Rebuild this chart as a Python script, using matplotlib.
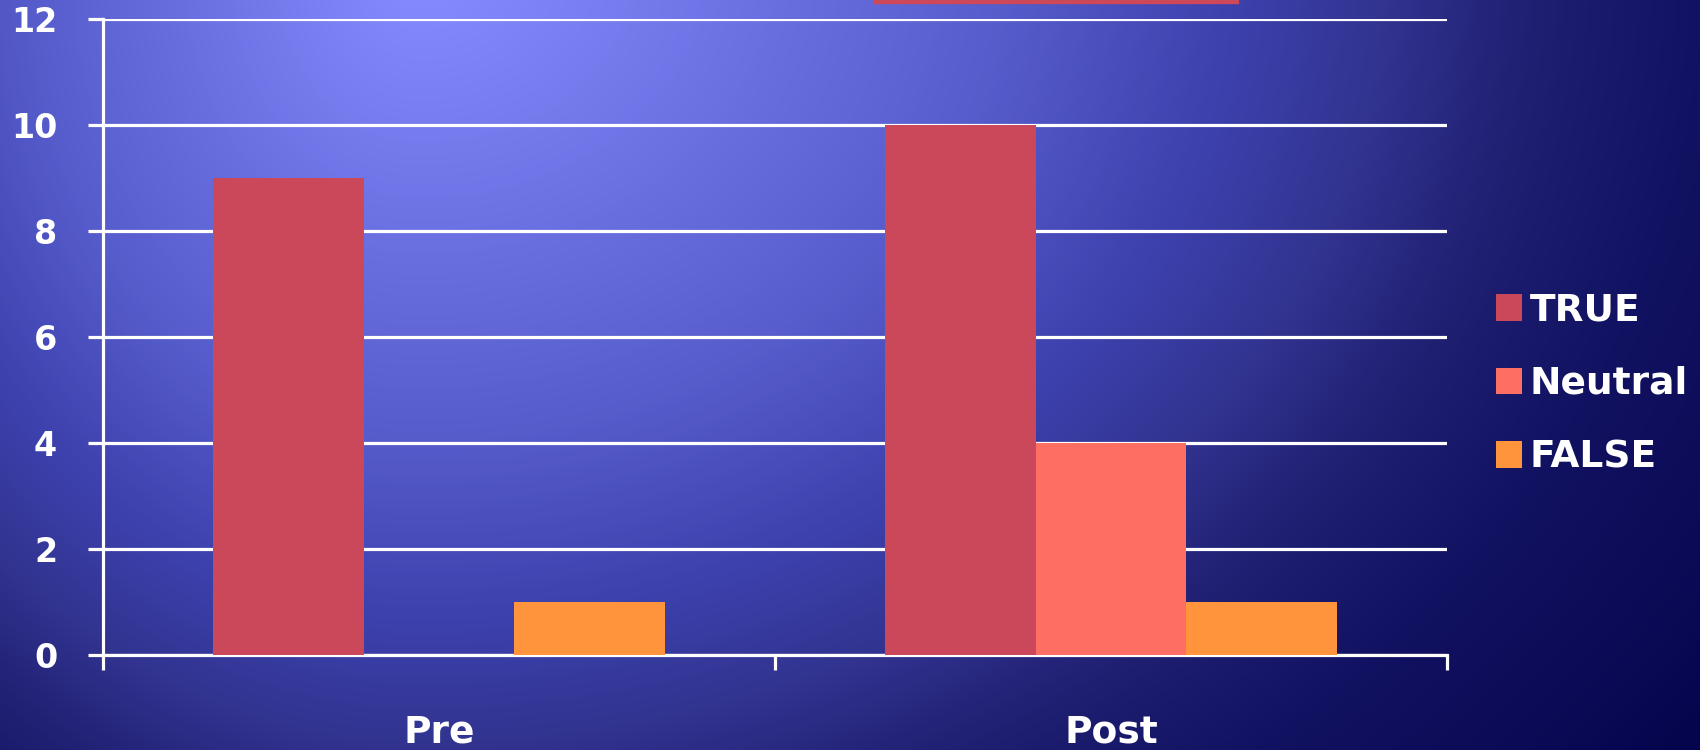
import numpy as np
import matplotlib
matplotlib.use("Agg")
import matplotlib.pyplot as plt
from matplotlib.colors import LinearSegmentedColormap
from matplotlib.patches import Rectangle

# data
groups = ["Pre", "Post"]
series = ["TRUE", "Neutral", "FALSE"]
true_vals = [9, 10]
neutral_vals = [0, 4]
false_vals = [1, 1]
colors = ["#CB485A", "#FF6E62", "#FF943D"]
yticks = [0, 2, 4, 6, 8, 10, 12]

W, H = 1700, 750
fig = plt.figure(figsize=(W / 100, H / 100), dpi=100)

# gradient background, brightest near top-left, darkest bottom-right
bg = fig.add_axes([0, 0, 1, 1], zorder=-10)
yy, xx = np.mgrid[0:H, 0:W]
dx = xx - 420.0
dx = np.where(dx < 0, dx * 1.5, dx)
d = np.sqrt(dx ** 2 + ((yy + 30.0) * 1.25) ** 2) / 1600.0
stops = [
    (0.00, (135, 140, 255)),
    (0.36, (88, 93, 205)),
    (0.50, (62, 66, 175)),
    (0.60, (50, 52, 145)),
    (0.68, (34, 34, 118)),
    (0.80, (18, 18, 98)),
    (1.00, (5, 5, 78)),
]
cmap = LinearSegmentedColormap.from_list(
    "bg", [(p, tuple(c / 255 for c in rgb)) for p, rgb in stops])
bg.imshow(np.clip(d, 0, 1), cmap=cmap, vmin=0, vmax=1, aspect="auto",
          extent=[0, W, H, 0], interpolation="bilinear")
bg.set_xlim(0, W)
bg.set_ylim(H, 0)
bg.axis("off")

# cropped title strip at the very top
fig.patches.append(Rectangle((874 / W, 1 - 3 / H), 364 / W, 3 / H,
                             transform=fig.transFigure, color="#CD4858"))

ax = fig.add_axes([103 / W, 1 - 655 / H, (1447 - 103) / W, (655 - 19.5) / H])
ax.patch.set_alpha(0)

x = np.arange(len(groups))
bw = 0.224
for i, (name, vals) in enumerate(zip(series, [true_vals, neutral_vals, false_vals])):
    ax.bar(x + (i - 1) * bw, vals, width=bw, color=colors[i], label=name, zorder=3)

ax.set_xlim(-0.5, 1.5)
ax.set_ylim(0, 12)
ax.set_yticks(yticks)
ax.yaxis.grid(True, color="white", linewidth=2.3, zorder=1)
ax.set_axisbelow(True)

for s in ["top", "right"]:
    ax.spines[s].set_visible(False)
for s in ["left", "bottom"]:
    ax.spines[s].set_color("white")
    ax.spines[s].set_linewidth(2.3)

fnt = "DejaVu Sans"
ax.set_xticks(x)
ax.set_xticklabels(groups, fontsize=27, fontweight="bold", color="white", family=fnt)
ax.tick_params(axis="x", which="major", length=0, pad=43)
ax.set_xticks([-0.5, 0.5, 1.5], minor=True)
ax.tick_params(axis="x", which="minor", length=11, width=2.3, color="white", direction="out")
ax.tick_params(axis="y", length=11, width=2.3, color="white", pad=22,
               labelsize=24, labelcolor="white")
for t in ax.get_yticklabels():
    t.set_fontweight("bold")
    t.set_family(fnt)

leg = fig.legend(loc="center left", bbox_to_anchor=(1462 / W, 1 - 384 / H),
                 frameon=False, handlelength=0.7, handleheight=0.7,
                 handletextpad=0.2, labelspacing=1.0,
                 prop={"family": fnt, "weight": "bold", "size": 27})
for t in leg.get_texts():
    t.set_color("white")

fig.savefig("out.png", dpi=100)
